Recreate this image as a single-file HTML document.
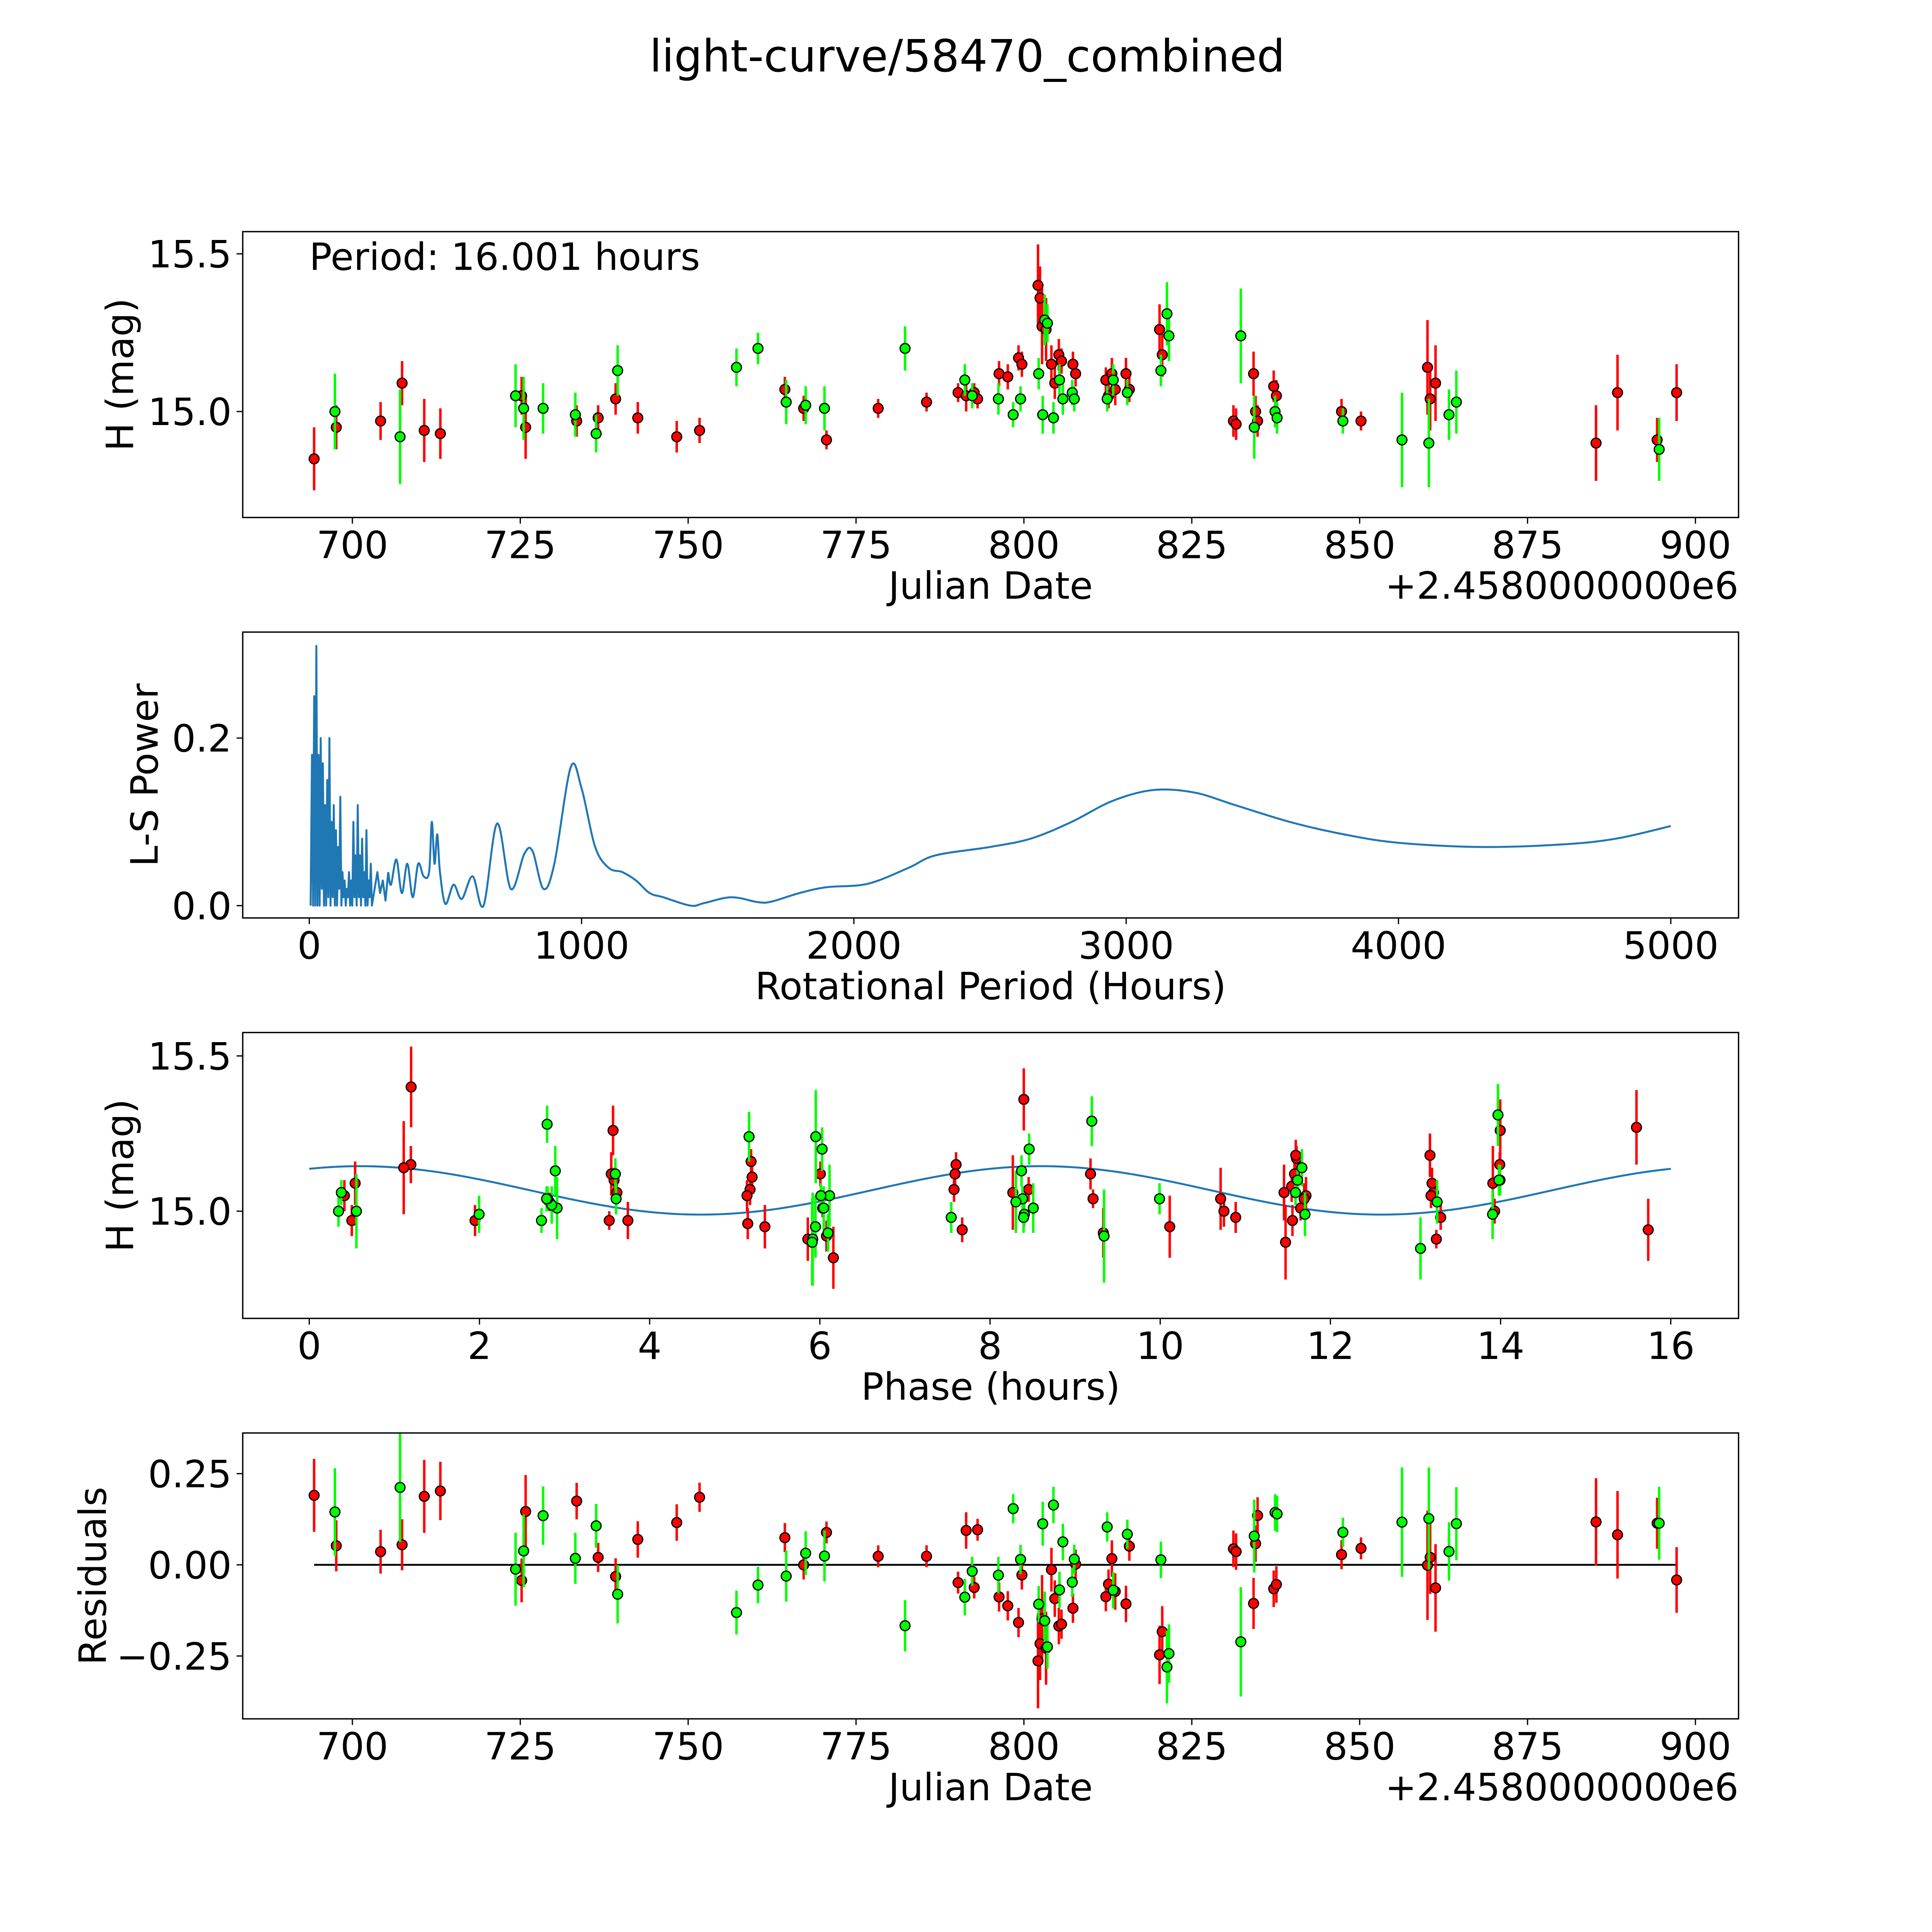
<!DOCTYPE html>
<html><head><meta charset="utf-8"><style>
html,body{margin:0;padding:0;background:#fff;overflow:hidden}
svg{display:block;width:100vw;height:100vw}
text{font-family:"DejaVu Sans","Liberation Sans",sans-serif;fill:#000}
</style></head><body>
<svg id="fig" viewBox="0 0 1568 1568" xmlns="http://www.w3.org/2000/svg">
<rect width="1568" height="1568" fill="#fff"/>
<text x="785" y="58" font-size="36" text-anchor="middle">light-curve/58470_combined</text>
</svg>
<script>
// ---- observation data ----
const jdRed = [694.3,697.6,704.2,707.4,710.7,713.1,725.2,725.8,733.4,736.6,739.2,742.5,748.3,751.7,764.4,767.2,770.6,778.3,785.5,790.2,791.4,792.6,793.1,796.3,797.6,799.2,799.7,802.1,802.4,802.7,803.3,804.1,804.6,805.2,805.6,807.3,807.7,812.2,812.6,813.1,813.6,815.2,815.7,820.2,820.6,831.2,831.6,834.2,834.5,834.8,837.2,837.6,847.3,850.2,860.1,860.5,861.3,885.2,888.4,894.3,897.2];
const hRed = [14.85,14.95,14.97,15.09,14.94,14.93,15.05,14.95,14.97,14.98,15.04,14.98,14.92,14.94,15.07,15.01,14.91,15.01,15.03,15.06,15.05,15.06,15.04,15.12,15.11,15.17,15.15,15.40,15.36,15.27,15.26,15.15,15.09,15.18,15.16,15.15,15.12,15.10,15.05,15.12,15.07,15.12,15.07,15.26,15.18,14.97,14.96,15.12,15.00,14.97,15.08,15.05,15.00,14.97,15.14,15.04,15.09,14.90,15.06,14.91,15.06];
const eRed = [0.10,0.07,0.06,0.07,0.10,0.08,0.06,0.10,0.05,0.04,0.05,0.05,0.05,0.04,0.04,0.04,0.03,0.03,0.03,0.03,0.05,0.03,0.03,0.04,0.04,0.04,0.04,0.13,0.10,0.12,0.10,0.06,0.05,0.05,0.04,0.04,0.04,0.04,0.04,0.05,0.05,0.05,0.04,0.08,0.07,0.05,0.05,0.07,0.05,0.05,0.05,0.05,0.04,0.03,0.15,0.10,0.12,0.12,0.12,0.07,0.09];
const jdGreen = [697.4,707.1,724.3,725.5,728.4,733.2,736.3,739.5,757.2,760.4,764.6,767.5,770.3,782.3,791.2,792.3,796.2,798.4,799.5,802.2,802.8,803.1,803.5,804.4,805.3,805.8,807.2,807.5,812.4,813.3,815.4,820.4,821.3,821.6,832.3,834.3,837.4,837.7,847.5,856.3,860.3,863.3,864.4,894.6];
const hGreen = [15.00,14.92,15.05,15.01,15.01,14.99,14.93,15.13,15.14,15.20,15.03,15.02,15.01,15.20,15.10,15.05,15.04,14.99,15.04,15.12,14.99,15.29,15.28,14.98,15.10,15.04,15.06,15.04,15.04,15.10,15.06,15.13,15.31,15.24,15.24,14.95,15.00,14.98,14.97,14.91,14.90,14.99,15.03,14.88];
const eGreen = [0.12,0.15,0.10,0.10,0.08,0.07,0.06,0.08,0.06,0.05,0.07,0.06,0.07,0.07,0.05,0.04,0.05,0.04,0.04,0.05,0.06,0.08,0.06,0.05,0.05,0.05,0.04,0.04,0.04,0.05,0.04,0.05,0.10,0.08,0.15,0.10,0.05,0.05,0.04,0.15,0.14,0.08,0.10,0.10];
const periodHours = 16.001;
// ---- periodogram ----
const lsSpikePeriod = [5,10,14,18,22,26,30,34,38,42,46,50,54,58,62,66,70,74,78,82,86,90,94,98,102,106,110,114,118,122,126,130,134,138,142,146,150,154,158,162,166,170,174,178,182,186,190,194,198,202,206,210,214,218,222,226,230,240,250,260,270,280,290];
const lsSpikePower = [0,0.18,0.0,0.25,0.0,0.31,0.0,0.18,0.0,0.20,0.02,0.17,0.0,0.12,0.0,0.15,0.01,0.20,0.0,0.10,0.01,0.12,0.0,0.09,0.0,0.07,0.02,0.13,0.0,0.04,0.01,0.03,0.0,0.02,0.01,0.04,0.0,0.03,0.0,0.10,0.01,0.06,0.0,0.12,0.01,0.06,0.0,0.08,0.01,0.04,0.0,0.09,0.0,0.03,0.01,0.05,0.0,0.02,0.04,0.015,0.03,0.006,0.04];
const lsPeriod = [300,320,340,360,380,400,420,440,450,460,470,480,500,530,560,600,640,690,740,790,820,860,900,960,1000,1050,1100,1150,1200,1250,1300,1400,1450,1550,1650,1700,1800,1900,2050,2200,2300,2500,2650,2800,2950,3100,3250,3400,3600,3800,4000,4300,4600,4800,5000];
const lsPower = [0.025,0.055,0.015,0.05,0.01,0.05,0.035,0.04,0.10,0.05,0.085,0.04,0.002,0.025,0.008,0.035,0.0,0.098,0.02,0.062,0.065,0.02,0.05,0.165,0.14,0.07,0.045,0.04,0.03,0.015,0.01,0.0,0.003,0.01,0.004,0.005,0.015,0.022,0.026,0.045,0.06,0.07,0.08,0.1,0.125,0.138,0.135,0.12,0.1,0.085,0.075,0.07,0.073,0.08,0.095];
// ---- model ----
const modelMean = 15.067, modelAmp = 0.078, modelPeak = 0.6;
const xTicksJD = [700,725,750,775,800,825,850,875,900];
const yTicksH = [15.0,15.5];
const xTicksLS = [0,1000,2000,3000,4000,5000];
const yTicksLS = [0.0,0.2];
const xTicksPh = [0,2,4,6,8,10,12,14,16];
const yTicksRes = [-0.25,0,0.25];
const yTickResLabels = ["\u22120.25","0.00","0.25"];

const NS="http://www.w3.org/2000/svg";
const svg=document.getElementById('fig');
function mk(tag,attrs,parent){const e=document.createElementNS(NS,tag);for(const k in attrs)e.setAttribute(k,attrs[k]);(parent||svg).appendChild(e);return e;}
function lin(d0,d1,r0,r1){return v=>r0+(v-d0)*(r1-r0)/(d1-d0);}
function model(ph){return modelMean+modelAmp*Math.cos(2*Math.PI*(ph-modelPeak)/(periodHours/2));}
function phaseOf(jd){let p=(jd*24)%periodHours;return p<0?p+periodHours:p;}
function smoothPath(pts){let d='M'+pts[0][0].toFixed(2)+','+pts[0][1].toFixed(2);
  for(let i=0;i<pts.length-1;i++){const p0=pts[Math.max(0,i-1)],p1=pts[i],p2=pts[i+1],p3=pts[Math.min(pts.length-1,i+2)];
    const c1x=p1[0]+(p2[0]-p0[0])/6,c1y=p1[1]+(p2[1]-p0[1])/6,c2x=p2[0]-(p3[0]-p1[0])/6,c2y=p2[1]-(p3[1]-p1[1])/6;
    d+=` C${c1x.toFixed(2)},${c1y.toFixed(2)} ${c2x.toFixed(2)},${c2y.toFixed(2)} ${p2[0].toFixed(2)},${p2[1].toFixed(2)}`;}
  return d;}

const L=197,R=1411,FS=30.5;
function frame(name,top,bot,sx,sy,xt,xl,yt,yl,xlabel,ylabel,ylabX){
  const g=mk('g',{});
  
  
  xt.forEach((v,i)=>{const x=sx(v);
    const t=mk('line',{x1:x,x2:x,y1:bot,y2:bot+5,stroke:'#000','stroke-width':1},g);
    
    const tx=mk('text',{x:x,y:bot+33,'font-size':FS,'text-anchor':'middle'},g);tx.textContent=xl[i];
    });
  yt.forEach((v,i)=>{const y=sy(v);
    const t=mk('line',{x1:L-5,x2:L,y1:y,y2:y,stroke:'#000','stroke-width':1},g);
    
    const tx=mk('text',{x:L-9,y:y+11,'font-size':FS,'text-anchor':'end'},g);tx.textContent=yl[i];
    });
  const xl2=mk('text',{x:(L+R)/2,y:bot+66,'font-size':FS,'text-anchor':'middle'},g);xl2.textContent=xlabel;
  
  const cy=(top+bot)/2;
  const yl2=mk('text',{x:ylabX,y:cy,'font-size':FS,'text-anchor':'middle',transform:`rotate(-90 ${ylabX} ${cy})`},g);yl2.textContent=ylabel;
  
  return g;
}
function border(top,bot){const r=mk('rect',{x:L,y:top,width:R-L,height:bot-top,fill:'none',stroke:'#000','stroke-width':1.1});
  }
function points(g,xs,ys,es,color,sx,sy,name){
  xs.forEach((x0,i)=>{const x=sx(x0);
    const l=mk('line',{x1:x,x2:x,y1:sy(ys[i]-es[i]),y2:sy(ys[i]+es[i]),stroke:color,'stroke-width':2},g);
    });
  xs.forEach((x0,i)=>{
    const c=mk('circle',{cx:sx(x0),cy:sy(ys[i]),r:4,fill:color,stroke:'#000','stroke-width':1},g);
    });
}
const offs='+2.4580000000e6';
// Panel 1
{const top=188,bot=420;const sx=lin(700,900,286,1376),sy=lin(15,15.5,334,206);
 const g=frame('light-curve-panel',top,bot,sx,sy,xTicksJD,xTicksJD.map(String),yTicksH,yTicksH.map(v=>v.toFixed(1)),'Julian Date','H (mag)',108);
 const o=mk('text',{x:R,y:bot+66,'font-size':FS,'text-anchor':'end'},g);o.textContent=offs;
 
 const p=mk('text',{x:251,y:219,'font-size':FS},g);p.textContent='Period: 16.001 hours';
 
 points(g,jdRed,hRed,eRed,'#ff0000',sx,sy,'red');
 points(g,jdGreen,hGreen,eGreen,'#00ff00',sx,sy,'green');
 border(top,bot);}
// Panel 2
{const top=513,bot=745;const sx=lin(0,5000,251,1356),sy=lin(0,0.2,735,599);
 const g=frame('periodogram-panel',top,bot,sx,sy,xTicksLS,xTicksLS.map(String),yTicksLS,yTicksLS.map(v=>v.toFixed(1)),'Rotational Period (Hours)','L-S Power',128);
 const d1=lsSpikePeriod.map((p,i)=>(i?'L':'M')+sx(p).toFixed(2)+','+sy(lsSpikePower[i]).toFixed(2)).join(' ');
 const pl1=mk('path',{d:d1,fill:'none',stroke:'#1f77b4','stroke-width':1.6,'stroke-linejoin':'round'},g);
 
 const pts=[[sx(lsSpikePeriod[lsSpikePeriod.length-1]),sy(lsSpikePower[lsSpikePower.length-1])]].concat(lsPeriod.map((p,i)=>[sx(p),sy(lsPower[i])]));
 const pl=mk('path',{d:smoothPath(pts),fill:'none',stroke:'#1f77b4','stroke-width':1.6,'stroke-linejoin':'round'},g);
 
 border(top,bot);}
// Panel 3
{const top=838,bot=1070;const sx=lin(0,16,251,1356),sy=lin(15,15.5,983,857);
 const g=frame('phased-panel',top,bot,sx,sy,xTicksPh,xTicksPh.map(String),yTicksH,yTicksH.map(v=>v.toFixed(1)),'Phase (hours)','H (mag)',108);
 let d='';for(let i=0;i<=200;i++){const ph=periodHours*i/200;d+=(i?'L':'M')+sx(ph).toFixed(2)+','+sy(model(ph)).toFixed(2);}
 const pl=mk('path',{d:d,fill:'none',stroke:'#1f77b4','stroke-width':1.6},g);
 
 points(g,jdRed.map(phaseOf),hRed,eRed,'#ff0000',sx,sy,'red-phased');
 points(g,jdGreen.map(phaseOf),hGreen,eGreen,'#00ff00',sx,sy,'green-phased');
 border(top,bot);}
// Panel 4
{const top=1163,bot=1395;const sx=lin(700,900,286,1376),sy=lin(0,0.25,1270,1196);
 const g=frame('residuals-panel',top,bot,sx,sy,xTicksJD,xTicksJD.map(String),yTicksRes,yTickResLabels,'Julian Date','Residuals',86);
 const o=mk('text',{x:R,y:bot+66,'font-size':FS,'text-anchor':'end'},g);o.textContent=offs;
 
 const allJd=jdRed.concat(jdGreen);
 const z=mk('line',{x1:sx(Math.min(...allJd)),x2:sx(Math.max(...allJd)),y1:sy(0),y2:sy(0),stroke:'#000','stroke-width':1.5},g);
 
 points(g,jdRed,jdRed.map((j,i)=>model(phaseOf(j))-hRed[i]),eRed,'#ff0000',sx,sy,'red-residual');
 points(g,jdGreen,jdGreen.map((j,i)=>model(phaseOf(j))-hGreen[i]),eGreen,'#00ff00',sx,sy,'green-residual');
 border(top,bot);}
</script>
</body></html>
